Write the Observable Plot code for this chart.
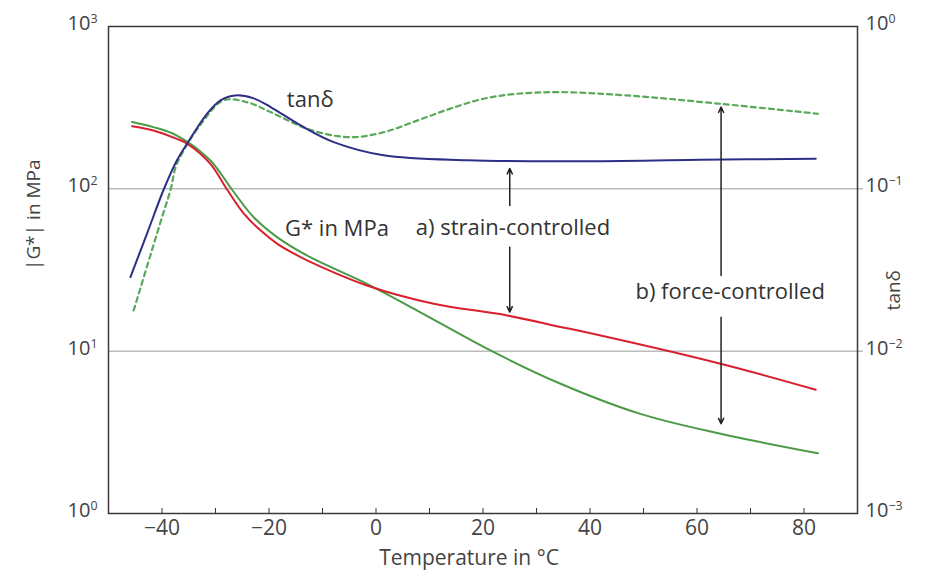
<!DOCTYPE html>
<html><head><meta charset="utf-8">
<script src="https://cdn.jsdelivr.net/npm/d3@7"></script>
<script src="https://cdn.jsdelivr.net/npm/@observablehq/plot@0.6"></script>
<style>
body{margin:0;background:#fff}
svg{font-family:"Open Sans",sans-serif}
</style>
</head><body><div id="chart"></div>
<script>
// |G*| in MPa, strain-controlled (red)
const tempRed = [-45.6, -41.6, -37.2, -35.3, -31.0, -27.8, -24.7, -21.6, -18.5, -15.4, -12.3, -1.7, 10.8, 24.5, 34.5, 38.2, 64.4, 82.2];
const gRed    = [243, 229, 203, 190, 143, 98.7, 70.3, 55.5, 46.0, 40.0, 35.5, 25.4, 19.6, 16.6, 14.1, 13.3, 8.36, 5.78];
// |G*| in MPa, force-controlled (green)
const tempGreen = [-45.6, -41.6, -37.2, -31.0, -26.9, -22.9, -18.5, -12.3, -1.7, 7.7, 21.4, 34.5, 49.4, 64.4, 82.6];
const gGreen    = [258, 240, 213, 150, 98.7, 67, 50.4, 37.9, 26, 17.8, 10.1, 6.3, 4.11, 3.10, 2.35];
// tan delta, strain-controlled (blue)
const tempTanBlue = [-45.9, -42.8, -39.7, -37.2, -35.3, -31.6, -29.0, -26.3, -23.0, -19.7, -14.1, -7.9, 1.4, 17.1, 38.2, 60.7, 82.2];
const tanBlue     = [0.0286, 0.053, 0.0987, 0.150, 0.190, 0.290, 0.352, 0.376, 0.362, 0.319, 0.246, 0.194, 0.161, 0.150, 0.148, 0.151, 0.153];
// tan delta, force-controlled (green dashed)
const tempTanGreen = [-45.3, -40.3, -38.4, -37.2, -32.2, -28.5, -24.0, -19.7, -12.3, -4.8, 1.4, 7.8, 13.9, 20.1, 26.4, 34.5, 47.0, 64.4, 82.6];
const tanGreen     = [0.0178, 0.062, 0.0987, 0.143, 0.264, 0.351, 0.341, 0.297, 0.231, 0.208, 0.223, 0.264, 0.312, 0.359, 0.385, 0.394, 0.376, 0.334, 0.290];
// arrows (G* scale)
const arrowT    = [25, 25, 64.5, 64.5];
const arrowFrom = [79, 43.7, 29.3, 16.2];
const arrowTo   = [133.6, 17.4, 319, 3.57];
// annotations
const noteText = ["tanδ", "G* in MPa", "a) strain-controlled", "b) force-controlled"];
const noteT    = [-12.3, -7.3, 25.6, 66.2];
const noteG    = [351, 57, 57.8, 23.0];
// ticks
const xTicks = [-40, -20, 0, 20, 40, 60, 80];
const xMinor = [-40, -30, -20, -10, 0, 10, 20, 30, 40, 50, 60, 70, 80];
const leftTicks = [1, 10, 100, 1000];
const leftLabels = ["10^0", "10^1", "10^2", "10^3"];
const rightLabels = ["10^-3", "10^-2", "10^-1", "10^0"];
const gridVals = [10, 100];

const zip = (xs, ys) => xs.map((x, i) => ({x, y: ys[i]}));
const red = zip(tempRed, gRed);
const green = zip(tempGreen, gGreen);
const blue = zip(tempTanBlue, tanBlue.map(v => v * 1000));
const dashed = zip(tempTanGreen, tanGreen.map(v => v * 1000));
const arrows = arrowT.map((t, i) => ({t, a: arrowFrom[i], b: arrowTo[i]}));
const notes = noteText.map((s, i) => ({s, x: noteT[i], y: noteG[i]}));

const chart = Plot.plot({
  width: 928, height: 579,
  marginTop: 26, marginBottom: 66, marginLeft: 108, marginRight: 71,
  style: {fontFamily: "Open Sans, sans-serif", fontSize: "16px", color: "#333"},
  x: {domain: [-50, 90]},
  y: {type: "log", domain: [1, 1000]},
  marks: [
    Plot.ruleY(gridVals, {stroke: "#9a9a9a", strokeWidth: 1}),
    Plot.axisY({anchor: "right", ticks: gridVals, tickSize: 5, stroke: "#9a9a9a", text: null, label: null}),
    Plot.axisY({anchor: "left", ticks: leftTicks, tickSize: 0, tickPadding: 11, fontSize: 20, fill: "#444", dy: -3,
      tickFormat: d => leftLabels[leftTicks.indexOf(d)], label: null}),
    Plot.axisY({anchor: "right", ticks: leftTicks, tickSize: 0, tickPadding: 8, fontSize: 20, fill: "#444", dy: -3,
      tickFormat: d => rightLabels[leftTicks.indexOf(d)], label: null}),
    Plot.axisX({anchor: "bottom", ticks: xMinor, tickSize: 5, dy: -5, text: null, label: null, stroke: "#333"}),
    Plot.axisX({anchor: "bottom", ticks: xTicks, tickSize: 0, tickPadding: 7, fontSize: 21, fill: "#444", label: null}),
    Plot.frame({stroke: "#3a3a3a", strokeWidth: 1.5}),
    Plot.line(dashed, {x: "x", y: "y", stroke: "#5aa85a", strokeWidth: 2.2, strokeDasharray: "5,4", curve: "catmull-rom"}),
    Plot.line(green, {x: "x", y: "y", stroke: "#4a9a46", strokeWidth: 2, curve: "catmull-rom"}),
    Plot.line(red, {x: "x", y: "y", stroke: "#d8202e", strokeWidth: 2, curve: "catmull-rom"}),
    Plot.line(blue, {x: "x", y: "y", stroke: "#2d2f86", strokeWidth: 2, curve: "catmull-rom"}),
    Plot.arrow(arrows, {x: "t", y1: "a", y2: "b", stroke: "#222", strokeWidth: 1.5, headLength: 6, headAngle: 50}),
    Plot.text(notes, {x: "x", y: "y", text: "s", fontSize: 22, fill: "#333"}),
    Plot.text(["|G*| in MPa"], {frameAnchor: "left", dx: -75, rotate: -90, fontSize: 19, fill: "#444"}),
    Plot.text(["tanδ"], {frameAnchor: "right", dx: 36, rotate: -90, fontSize: 19, fill: "#444"}),
    Plot.text(["Temperature in °C"], {frameAnchor: "bottom", dx: -14, dy: 51, fontSize: 21, fill: "#444"})
  ]
});

// superscript tick labels
d3.select(chart).selectAll("text").each(function() {
  const t = this.textContent;
  if (!t || t.indexOf("^") < 0) return;
  const [base, exp] = t.split("^");
  const sel = d3.select(this);
  sel.text(base);
  sel.append("tspan").attr("dy", "-0.55em").attr("font-size", "0.62em").text(exp.replace("-", "−"));
});
document.getElementById("chart").appendChild(chart);
</script>
</body></html>
